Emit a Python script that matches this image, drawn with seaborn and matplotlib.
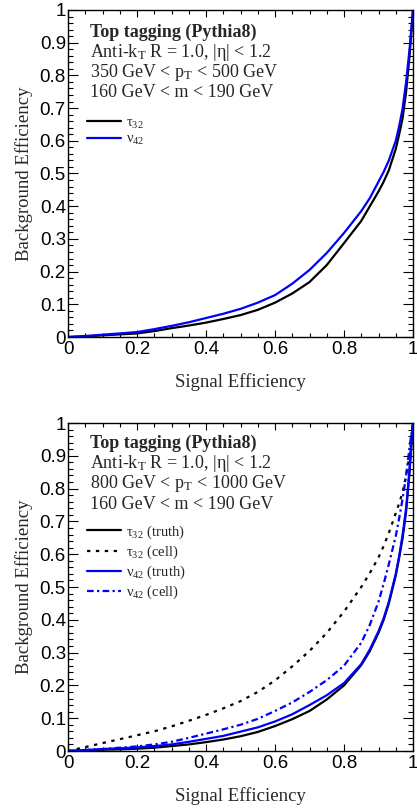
import numpy as np
import pandas as pd
import matplotlib
matplotlib.use('Agg')
import matplotlib.pyplot as plt
from matplotlib.ticker import MultipleLocator, FuncFormatter
import seaborn as sns

# signal efficiency grid
sig_eff = [0, 0.05, 0.1, 0.15, 0.2, 0.25, 0.3, 0.35, 0.4, 0.45, 0.5, 0.55, 0.6,
           0.65, 0.7, 0.75, 0.8, 0.85, 0.875, 0.9, 0.915, 0.93, 0.95, 0.96, 0.97,
           0.98, 0.99, 0.995, 1.0]

# top panel: 350 < pT < 500 GeV
tau32_low = [0, 0.002, 0.005, 0.008, 0.011, 0.018, 0.027, 0.035, 0.044, 0.055, 0.067, 0.083, 0.105,
             0.133, 0.168, 0.220, 0.287, 0.355, 0.40, 0.445, 0.475, 0.51, 0.575, 0.62, 0.67,
             0.75, 0.86, 0.93, 1.0]
nu42_low = [0, 0.003, 0.007, 0.011, 0.015, 0.024, 0.034, 0.045, 0.058, 0.071, 0.086, 0.105, 0.128,
            0.163, 0.205, 0.257, 0.318, 0.385, 0.425, 0.475, 0.505, 0.54, 0.60, 0.645, 0.70,
            0.78, 0.88, 0.94, 1.0]

# bottom panel: 800 < pT < 1000 GeV
tau32_truth = [0, 0.002, 0.004, 0.005, 0.007, 0.010, 0.015, 0.020, 0.027, 0.035, 0.045, 0.058, 0.076,
               0.097, 0.122, 0.157, 0.200, 0.262, 0.305, 0.36, 0.40, 0.45, 0.535, 0.59, 0.65,
               0.73, 0.85, 0.93, 1.0]
tau32_cell = [0, 0.012, 0.024, 0.036, 0.048, 0.060, 0.075, 0.092, 0.110, 0.130, 0.152, 0.180, 0.215,
              0.258, 0.305, 0.360, 0.425, 0.500, 0.543, 0.59, 0.625, 0.665, 0.725, 0.755, 0.79,
              0.84, 0.90, 0.95, 1.0]
nu42_truth = [0, 0.003, 0.006, 0.008, 0.011, 0.015, 0.020, 0.028, 0.037, 0.046, 0.059, 0.072, 0.090,
              0.112, 0.140, 0.170, 0.207, 0.265, 0.31, 0.365, 0.405, 0.455, 0.54, 0.595, 0.66,
              0.74, 0.86, 0.935, 1.0]
nu42_cell = [0, 0.003, 0.006, 0.010, 0.014, 0.020, 0.028, 0.040, 0.053, 0.066, 0.080, 0.098, 0.122,
             0.148, 0.180, 0.216, 0.260, 0.330, 0.385, 0.455, 0.51, 0.57, 0.655, 0.71, 0.77,
             0.84, 0.925, 0.965, 1.0]

top_text = ['Anti-k$_\\mathrm{T}$ R = 1.0, |η| < 1.2',
            '350 GeV < p$_\\mathrm{T}$ < 500 GeV',
            '160 GeV < m < 190 GeV']
bot_text = ['Anti-k$_\\mathrm{T}$ R = 1.0, |η| < 1.2',
            '800 GeV < p$_\\mathrm{T}$ < 1000 GeV',
            '160 GeV < m < 190 GeV']

sns.set_style('ticks')
plt.rcParams['font.family'] = ['Liberation Serif', 'DejaVu Serif']
plt.rcParams['mathtext.fontset'] = 'custom'
plt.rcParams['mathtext.rm'] = 'Liberation Serif'
plt.rcParams['mathtext.it'] = 'Liberation Serif:italic'
plt.rcParams['axes.linewidth'] = 1.0

BLUE = '#0000ff'

fig = plt.figure(figsize=(4.17, 8.10), dpi=100)
ax1 = fig.add_axes([68/417, (810-337)/810, 345/417, 327/810])
ax2 = fig.add_axes([68/417, (810-751)/810, 345/417, 328/810])

df_top = pd.DataFrame({'sig': sig_eff, 'tau': tau32_low, 'nu': nu42_low})
df_bot = pd.DataFrame({'sig': sig_eff, 'tau_t': tau32_truth, 'tau_c': tau32_cell,
                       'nu_t': nu42_truth, 'nu_c': nu42_cell})

sns.lineplot(data=df_top, x='sig', y='tau', ax=ax1, color='black', lw=1.6,
             label='τ$_{32}$', sort=False, estimator=None)
sns.lineplot(data=df_top, x='sig', y='nu', ax=ax1, color=BLUE, lw=1.6,
             label='ν$_{42}$', sort=False, estimator=None)

sns.lineplot(data=df_bot, x='sig', y='tau_t', ax=ax2, color='black', lw=1.6,
             label='τ$_{32}$ (truth)', sort=False, estimator=None)
sns.lineplot(data=df_bot, x='sig', y='tau_c', ax=ax2, color='black', lw=1.6,
             linestyle=(0, (1.5, 2.5)), label='τ$_{32}$ (cell)', sort=False, estimator=None)
sns.lineplot(data=df_bot, x='sig', y='nu_t', ax=ax2, color=BLUE, lw=1.6,
             label='ν$_{42}$ (truth)', sort=False, estimator=None)
sns.lineplot(data=df_bot, x='sig', y='nu_c', ax=ax2, color=BLUE, lw=1.6,
             linestyle=(0, (3, 1.5, 1, 1.5)), label='ν$_{42}$ (cell)', sort=False, estimator=None)

fmt = FuncFormatter(lambda v, p: '%g' % round(v, 2))

for ax, lines, ytop in [(ax1, top_text, 0.933), (ax2, bot_text, 0.939)]:
    ax.set_xlim(0, 1)
    ax.set_ylim(0, 1)
    ax.xaxis.set_major_locator(MultipleLocator(0.2))
    ax.xaxis.set_minor_locator(MultipleLocator(0.05))
    ax.yaxis.set_major_locator(MultipleLocator(0.1))
    ax.yaxis.set_minor_locator(MultipleLocator(0.02))
    ax.xaxis.set_major_formatter(fmt)
    ax.yaxis.set_major_formatter(fmt)
    ax.tick_params(axis='both', which='both', direction='in', top=True, right=True,
                   width=0.8, colors='black')
    ax.tick_params(axis='y', which='major', length=7, pad=1.5)
    ax.tick_params(axis='y', which='minor', length=3.5)
    ax.tick_params(axis='x', which='major', length=5, pad=3)
    ax.tick_params(axis='x', which='minor', length=3)
    for lab in ax.get_xticklabels() + ax.get_yticklabels():
        lab.set_fontfamily('Liberation Sans')
        lab.set_fontsize(13.5)
    ax.set_xlabel('Signal Efficiency', fontsize=13.5, labelpad=11)
    ax.set_ylabel('Background Efficiency', fontsize=13.5, labelpad=5)
    for s in ax.spines.values():
        s.set_color('black')
    ax.text(0.064, ytop, 'Top tagging (Pythia8)', transform=ax.transAxes,
            fontsize=13, fontweight='bold', va='center', ha='left')
    for i, t in enumerate(lines):
        ax.text(0.064, ytop - 0.062 * (i + 1), t, transform=ax.transAxes,
                fontsize=13, va='center', ha='left')

ax1.legend(loc='upper left', bbox_to_anchor=(0.055, 0.675), frameon=False, fontsize=10.5,
           handlelength=2.3, handletextpad=0.4, labelspacing=0.15, borderpad=0, borderaxespad=0)
ax2.legend(loc='upper left', bbox_to_anchor=(0.055, 0.694), frameon=False, fontsize=10.5,
           handlelength=2.3, handletextpad=0.4, labelspacing=0.2, borderpad=0, borderaxespad=0)

fig.savefig('out.png', dpi=100, facecolor='white')
